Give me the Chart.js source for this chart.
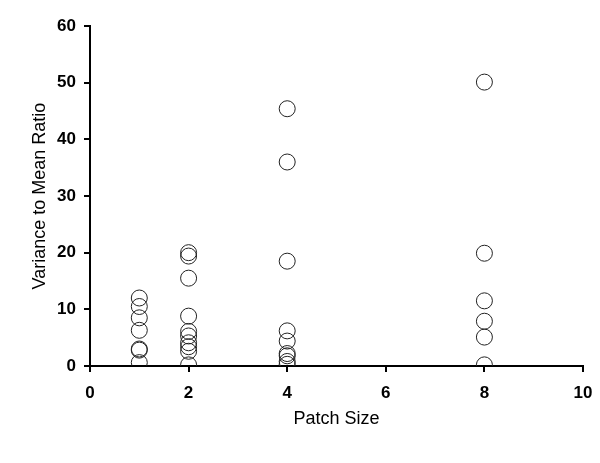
<!DOCTYPE html>
<html>
<head>
<meta charset="utf-8">
<script src="https://cdn.jsdelivr.net/npm/chart.js@4"></script>
<style>
  html, body { margin: 0; padding: 0; background: #fff; }
  canvas { display: block; }
</style>
</head>
<body>
<canvas id="chart" width="600" height="463"></canvas>
<script>
// patch sizes (x) and the variance-to-mean ratios read at each one
const patchSizes = [1, 2, 4, 8];
const ratiosSize1 = [12.0, 10.5, 8.5, 6.3, 3.0, 2.8, 0.6];
const ratiosSize2 = [20.0, 19.4, 15.5, 8.8, 6.1, 5.3, 4.1, 3.4, 2.6, 0.2];
const ratiosSize4 = [45.4, 36.0, 18.5, 6.2, 4.4, 2.2, 1.8, 0.8, 0.3];
const ratiosSize8 = [50.1, 19.9, 11.5, 7.9, 5.1, 0.2];
const xTicks = [0, 2, 4, 6, 8, 10];
const yTicks = [0, 10, 20, 30, 40, 50, 60];

const allRatios = [ratiosSize1, ratiosSize2, ratiosSize4, ratiosSize8];
const points = [];
patchSizes.forEach((size, i) => {
  allRatios[i].forEach((v) => points.push({ x: size, y: v }));
});

const tickFont = { family: "'Liberation Sans', Arial, sans-serif", size: 17, weight: "bold" };
const titleFont = { family: "'Liberation Sans', Arial, sans-serif", size: 18 };

new Chart(document.getElementById("chart"), {
  type: "scatter",
  data: {
    datasets: [
      {
        data: points,
        pointStyle: "circle",
        pointRadius: 8,
        pointBorderWidth: 1,
        pointBorderColor: "#222",
        pointBackgroundColor: "rgba(0,0,0,0)",
      },
    ],
  },
  options: {
    responsive: false,
    animation: false,
    layout: { padding: { top: 26, right: 17, left: 0, bottom: 0 } },
    plugins: { legend: { display: false }, tooltip: { enabled: false } },
    scales: {
      x: {
        type: "linear",
        min: xTicks[0],
        max: xTicks[xTicks.length - 1],
        afterBuildTicks: (s) => { s.ticks = xTicks.map((v) => ({ value: v })); },
        afterFit: (s) => {
          s.height = 97;
          s.paddingLeft = 0;
          s.paddingRight = 0;
        },
        border: { color: "#000", width: 2 },
        grid: { drawOnChartArea: false, drawTicks: true, tickLength: 6, color: "#000", lineWidth: 2 },
        ticks: { color: "#000", font: tickFont, padding: 11, maxRotation: 0 },
        title: { display: true, text: "Patch Size", color: "#000", font: titleFont, padding: { top: 0, bottom: 33 } },
      },
      y: {
        type: "linear",
        min: yTicks[0],
        max: yTicks[yTicks.length - 1],
        afterBuildTicks: (s) => { s.ticks = yTicks.map((v) => ({ value: v })); },
        afterFit: (s) => { s.width = 90; },
        border: { color: "#000", width: 2 },
        grid: { drawOnChartArea: false, drawTicks: true, tickLength: 6, color: "#000", lineWidth: 2 },
        ticks: { color: "#000", font: tickFont, padding: 8 },
        title: { display: true, text: "Variance to Mean Ratio", color: "#000", font: titleFont, padding: { top: 29, bottom: 0 } },
      },
    },
  },
});
</script>
</body>
</html>
